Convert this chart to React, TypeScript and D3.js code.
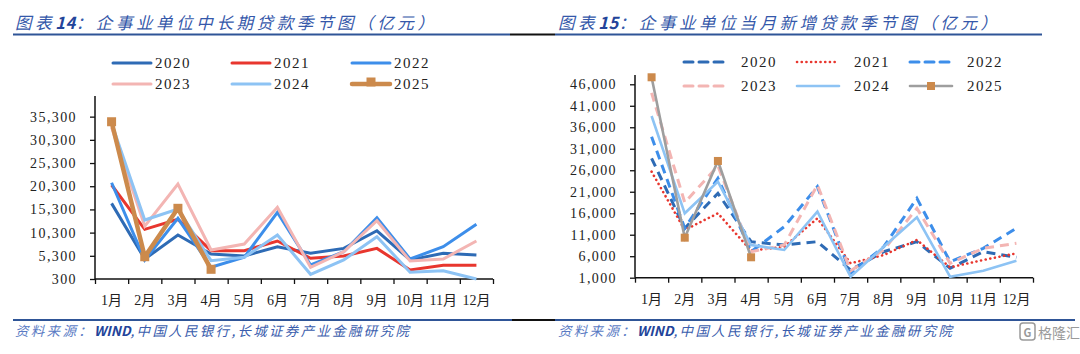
import { useEffect, useRef } from 'react';
import * as d3 from 'd3';

// months / series
const months = ['1月', '2月', '3月', '4月', '5月', '6月', '7月', '8月', '9月', '10月', '11月', '12月'];
const years = ['2020', '2021', '2022', '2023', '2024', '2025'];

// 企事业单位中长期贷款 (亿元)
const mlt2020 = [16600, 4600, 9780, 5690, 5250, 7260, 5840, 6900, 10700, 4400, 5840, 5470];
const mlt2021 = [20560, 11000, 13170, 6400, 6400, 8490, 4760, 5250, 6900, 2240, 3250, 3250];
const mlt2022 = [21050, 4400, 13380, 2820, 4980, 14670, 3320, 6180, 13510, 4610, 7260, 12090];
const mlt2023 = [33000, 11700, 20770, 6550, 7840, 15750, 2820, 6180, 12860, 4180, 4610, 8490];
const mlt2024 = [33900, 13010, 15400, 4250, 4980, 9780, 1310, 4400, 9420, 1740, 2090, 300];
const mlt2025 = [34200, 5100, 15540, 2390];
const mltTicks = [300, 5300, 10300, 15300, 20300, 25300, 30300, 35300];

// 企事业单位当月新增贷款 (亿元)
const nw2020 = [28780, 12500, 20640, 9380, 8610, 9380, 2790, 7050, 9380, 3190, 7050, 5750];
const nw2021 = [25670, 12100, 15980, 7280, 8210, 14820, 4350, 6280, 9770, 3420, 5120, 6670];
const nw2022 = [33810, 12500, 24130, 7050, 12870, 22180, 2020, 8210, 19470, 4720, 7840, 12500];
const nw2023 = [44000, 18500, 27000, 7050, 8600, 22570, 2630, 7450, 17150, 4350, 7840, 9000];
const nw2024 = [38630, 15980, 23340, 8610, 7450, 16360, 1230, 8210, 15050, 1230, 2630, 4960];
const nw2025 = [47630, 10310, 28160, 5750];
const nwTicks = [1000, 6000, 11000, 16000, 21000, 26000, 31000, 36000, 41000, 46000];

const SERIF = "'Liberation Serif', 'Noto Sans CJK SC', serif";
const CJK = "'Noto Sans CJK SC', 'Noto Sans', sans-serif";

interface Style { color: string; width: number; dash?: string; cap?: string; marker?: string }

const leftStyles: Style[] = [
  { color: '#2E6BB5', width: 3 },
  { color: '#E8362E', width: 3 },
  { color: '#3D8EEA', width: 3 },
  { color: '#F3B5B3', width: 3 },
  { color: '#8DC3F4', width: 3 },
  { color: '#CC8A4C', width: 4.5, marker: '#CC8A4C' },
];

const rightStyles: Style[] = [
  { color: '#2E6BB5', width: 3, dash: '9,6' },
  { color: '#E8362E', width: 2.6, dash: '0.1,4.6', cap: 'round' },
  { color: '#3D8EEA', width: 3, dash: '9,6' },
  { color: '#F3B5B3', width: 3, dash: '9,6' },
  { color: '#8DC3F4', width: 2.6 },
  { color: '#9E9E9E', width: 2.6, marker: '#CC8A4C' },
];

function drawPanel(
  svg: d3.Selection<SVGSVGElement, unknown, null, undefined>,
  opts: {
    x0: number; x1: number; yBottom: number; yTop: number; domain: [number, number];
    ticks: number[]; series: number[][]; styles: Style[]; legendX: number[];
    legendY: number[]; legendLen: number; legendText: number; markerSize: number;
  }
) {
  const x = d3.scaleBand<string>().domain(months).range([opts.x0, opts.x1]).paddingInner(0).paddingOuter(0);
  const y = d3.scaleLinear().domain(opts.domain).range([opts.yBottom, opts.yTop]);
  const bw = x.bandwidth();
  const g = svg.append('g');

  // y axis
  const ya = g.append('g')
    .attr('transform', `translate(${opts.x0},0)`)
    .call(d3.axisLeft(y).tickValues(opts.ticks).tickSize(5).tickPadding(13).tickFormat(d => d3.format(',')(d as number)));
  ya.selectAll('.domain').attr('stroke', '#111').attr('stroke-width', 1.5).attr('d', `M0,${opts.yTop}V${opts.yBottom}`);
  ya.selectAll('.tick line').attr('stroke', '#111').attr('stroke-width', 1.3);
  ya.selectAll('.tick text')
    .style('font-family', SERIF).style('font-size', '14px').style('letter-spacing', '1.4px').attr('fill', '#222');

  // x axis
  const idx = d3.range(months.length + 1);
  const xl = d3.scaleLinear().domain([0, months.length]).range([opts.x0, opts.x1]);
  const xa = g.append('g')
    .attr('transform', `translate(0,${opts.yBottom})`)
    .call(d3.axisBottom(xl).tickValues(idx).tickSize(5).tickFormat(() => ''));
  xa.select('.domain').attr('stroke', '#111').attr('stroke-width', 1.5).attr('d', `M${opts.x0},0H${opts.x1}`);
  xa.selectAll('.tick line').attr('stroke', '#111').attr('stroke-width', 1.3);

  g.selectAll('.mlabel').data(months).enter().append('text')
    .attr('x', d => (x(d) || 0) + bw / 2)
    .attr('y', opts.yBottom + 26)
    .attr('text-anchor', 'middle')
    .style('font-family', SERIF).style('font-size', '14px').attr('fill', '#222')
    .text(d => d);

  const line = d3.line<number>()
    .x((_, i) => (x(months[i]) || 0) + bw / 2)
    .y(v => y(v));

  opts.series.forEach((s, k) => {
    const st = opts.styles[k];
    g.append('path')
      .datum(s)
      .attr('d', line)
      .attr('fill', 'none')
      .attr('stroke', st.color)
      .attr('stroke-width', st.width)
      .attr('stroke-dasharray', st.dash || null)
      .attr('stroke-linecap', st.cap || 'butt')
      .attr('stroke-linejoin', 'miter');
    if (st.marker) {
      g.selectAll(`.mk${k}`).data(s).enter().append('rect')
        .attr('x', (_, i) => (x(months[i]) || 0) + bw / 2 - opts.markerSize / 2)
        .attr('y', v => y(v) - opts.markerSize / 2)
        .attr('width', opts.markerSize).attr('height', opts.markerSize)
        .attr('fill', st.marker);
    }
  });

  // legend
  years.forEach((yr, k) => {
    const st = opts.styles[k];
    const lx = opts.legendX[k % 3];
    const ly = opts.legendY[Math.floor(k / 3)];
    g.append('line')
      .attr('x1', lx).attr('x2', lx + opts.legendLen).attr('y1', ly).attr('y2', ly)
      .attr('stroke', st.color).attr('stroke-width', st.width)
      .attr('stroke-dasharray', st.dash || null)
      .attr('stroke-linecap', st.cap || 'round');
    if (st.marker) {
      g.append('rect')
        .attr('x', lx + opts.legendLen / 2 - opts.markerSize / 2)
        .attr('y', ly - opts.markerSize / 2 - (opts.markerSize > 8 ? 2 : 0))
        .attr('width', opts.markerSize).attr('height', opts.markerSize)
        .attr('fill', st.marker);
    }
    g.append('text')
      .attr('x', lx + opts.legendText).attr('y', ly + 5)
      .style('font-family', SERIF).style('font-size', '15px').style('letter-spacing', '1.5px')
      .attr('fill', '#222')
      .text(yr);
  });
}

export default function App() {
  const svgRef = useRef<SVGSVGElement>(null);

  useEffect(() => {
    if (!svgRef.current) return;
    const svg = d3.select(svgRef.current);
    svg.selectAll('*').remove();

    svg.append('rect').attr('width', 1080).attr('height', 354).attr('fill', '#fff');

    // titles
    const titles = [
      { x: 15, num: '14', rest: '企事业单位中长期贷款季节图（亿元）' },
      { x: 558, num: '15', rest: '企事业单位当月新增贷款季节图（亿元）' },
    ];
    titles.forEach(t => {
      const tx = svg.append('text')
        .attr('x', t.x).attr('y', 29)
        .style('font-family', CJK).style('font-size', '16.5px').style('font-style', 'italic')
        .style('letter-spacing', '3.6px').attr('fill', '#3558AA');
      tx.append('tspan').text('图表');
      tx.append('tspan').style('font-weight', '700').style('letter-spacing', '0.5px').attr('fill', '#23449A').text(t.num);
      tx.append('tspan').text('：' + t.rest);
    });

    // title rules
    svg.append('line').attr('x1', 13).attr('x2', 510).attr('y1', 34.5).attr('y2', 34.5).attr('stroke', '#2F5597').attr('stroke-width', 2);
    svg.append('line').attr('x1', 510).attr('x2', 555).attr('y1', 34.5).attr('y2', 34.5).attr('stroke', '#111').attr('stroke-width', 2);
    svg.append('line').attr('x1', 555).attr('x2', 1042).attr('y1', 34.5).attr('y2', 34.5).attr('stroke', '#2F5597').attr('stroke-width', 2);

    drawPanel(svg, {
      x0: 95, x1: 493, yBottom: 279, yTop: 96, domain: [300, 39750], ticks: mltTicks,
      series: [mlt2020, mlt2021, mlt2022, mlt2023, mlt2024, mlt2025], styles: leftStyles,
      legendX: [113, 232, 352], legendY: [63, 84], legendLen: 38, legendText: 42, markerSize: 9,
    });

    drawPanel(svg, {
      x0: 635, x1: 1033, yBottom: 277.7, yTop: 75, domain: [1000, 48160], ticks: nwTicks,
      series: [nw2020, nw2021, nw2022, nw2023, nw2024, nw2025], styles: rightStyles,
      legendX: [684, 797, 910], legendY: [62, 86], legendLen: 42, legendText: 57, markerSize: 8,
    });

    // footer rule
    svg.append('line').attr('x1', 13).attr('x2', 512).attr('y1', 320).attr('y2', 320).attr('stroke', '#2F5597').attr('stroke-width', 2);
    svg.append('line').attr('x1', 512).attr('x2', 555).attr('y1', 320).attr('y2', 320).attr('stroke', '#111').attr('stroke-width', 2);
    svg.append('line').attr('x1', 555).attr('x2', 1075).attr('y1', 320).attr('y2', 320).attr('stroke', '#2F5597').attr('stroke-width', 2);

    [15, 558].forEach(fx => {
      const ft = svg.append('text')
        .attr('x', fx).attr('y', 336)
        .style('font-family', CJK).style('font-size', '13.5px').style('font-style', 'italic')
        .style('letter-spacing', '2.3px').attr('fill', '#3A5DAD');
      ft.append('tspan').attr('fill', '#5A7BC4').text('资料来源：');
      ft.append('tspan').style('font-weight', '700').attr('fill', '#23449A').style('letter-spacing', '0px').text('WIND');
      ft.append('tspan').text(',中国人民银行,长城证券产业金融研究院');
    });

    // watermark
    svg.append('rect').attr('x', 1020).attr('y', 323).attr('width', 15).attr('height', 17).attr('rx', 3)
      .attr('fill', 'none').attr('stroke', '#9a9a9a').attr('stroke-width', 1.5);
    svg.append('text').attr('x', 1023.5).attr('y', 336.5)
      .style('font-family', CJK).style('font-size', '11px').style('font-weight', '700').attr('fill', '#9a9a9a').text('G');
    svg.append('text').attr('x', 1038).attr('y', 338)
      .style('font-family', CJK).style('font-size', '14px').attr('fill', '#9a9a9a').text('格隆汇');
  }, []);

  return (
    <div style={{ position: 'absolute', left: 0, top: 0 }}>
      <svg ref={svgRef} width={1080} height={354} style={{ display: 'block' }} />
    </div>
  );
}
